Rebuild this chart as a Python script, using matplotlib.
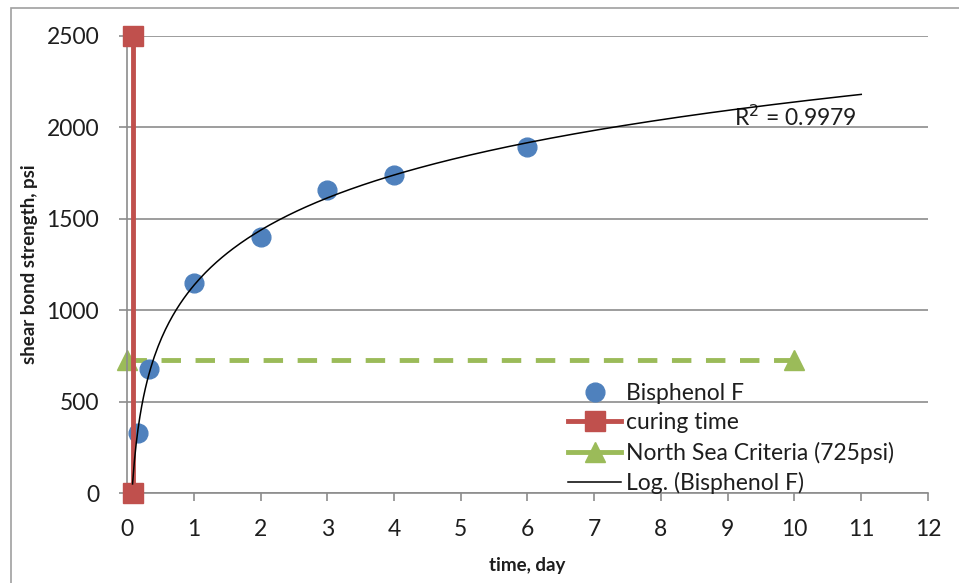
import numpy as np
import matplotlib
matplotlib.use("Agg")
import matplotlib.pyplot as plt
from matplotlib.patches import Rectangle
from matplotlib.lines import Line2D

plt.rcParams['font.family'] = ['Lato', 'DejaVu Sans']

# Data
bis_x = [0.167, 0.333, 1, 2, 3, 4, 6]
bis_y = [330, 680, 1150, 1400, 1657, 1742, 1893]
cure_x = [0.083, 0.083]
cure_y = [0, 2500]
ns_x = [0, 10]
ns_y = [725, 725]
trend_end = 11
r2_label = "R$^2$ = 0.9979"
x_ticks = list(range(0, 13))
y_ticks = [0, 500, 1000, 1500, 2000, 2500]

blue = '#4F81BD'
red = '#C0504D'
green = '#9BBB59'
grid_c = '#8C8C8C'
txt_c = '#1E1E1E'

fig = plt.figure(figsize=(9.59, 5.83), dpi=100)
ax = fig.add_axes([127/959, 1-493/583, (928-127)/959, (493-36)/583])

# border of chart area
fig.add_artist(Rectangle((11/959, -0.1), 1.2, 1 - 8/583 + 0.1, transform=fig.transFigure,
                         fill=False, edgecolor='#A0A0A0', lw=1.2))

ax.set_xlim(0, 12)
ax.set_ylim(0, 2500)
ax.set_xticks(x_ticks)
ax.set_yticks(y_ticks)
ax.yaxis.grid(True, color=grid_c, lw=1.2)
ax.set_axisbelow(True)
for s in ['top', 'right']:
    ax.spines[s].set_visible(False)
for s in ['left', 'bottom']:
    ax.spines[s].set_color(grid_c)
    ax.spines[s].set_linewidth(1.2)
ax.tick_params(axis='both', colors=grid_c, length=6, width=1.2, labelsize=16.5,
               labelcolor=txt_c)
ax.tick_params(axis='x', pad=13)
ax.tick_params(axis='y', pad=14)

# Log trendline
a, b = np.polyfit(np.log(bis_x), bis_y, 1)
tx = np.linspace(cure_x[0], trend_end, 400)
ty = a * np.log(tx) + b

ax.plot(bis_x, bis_y, 'o', color=blue, markersize=13.5, label='Bisphenol F', zorder=3)
ax.plot(cure_x, cure_y, '-s', color=red, lw=3.5, markersize=14, label='curing time',
        zorder=4, clip_on=False)
ax.plot(ns_x, ns_y, '--^', color=green, lw=3.5, markersize=14, dashes=(4, 3),
        label='North Sea Criteria (725psi)', zorder=2, clip_on=False)
ax.plot(tx, ty, '-', color='black', lw=1.1, label='Log. (Bisphenol F)', zorder=5)

ax.text(9.1, 2010, r2_label, fontsize=16.5, color=txt_c, va='baseline', ha='left')

ax.set_xlabel('time, day', fontsize=13.5, fontweight='bold', labelpad=12, color=txt_c)
ax.set_ylabel('shear bond strength, psi', fontsize=13.5, fontweight='bold', labelpad=6,
              color=txt_c)

# Legend
handles = [
    Line2D([], [], ls='none', marker='o', color=blue, markersize=13.5),
    Line2D([], [], ls='-', marker='s', color=red, lw=3.5, markersize=14),
    Line2D([], [], ls='-', marker='^', color=green, lw=3.5, markersize=14),
    Line2D([], [], ls='-', color='black', lw=1.1),
]
labels = ['Bisphenol F', 'curing time', 'North Sea Criteria (725psi)', 'Log. (Bisphenol F)']
leg = ax.legend(handles, labels, loc='lower left', bbox_to_anchor=(0.551, -0.002),
                frameon=False, fontsize=16.5, handlelength=2.3, handletextpad=0.2,
                labelspacing=0.36, borderaxespad=0, borderpad=0)
for t in leg.get_texts():
    t.set_color(txt_c)

fig.savefig('out.png', dpi=100, facecolor='white')
